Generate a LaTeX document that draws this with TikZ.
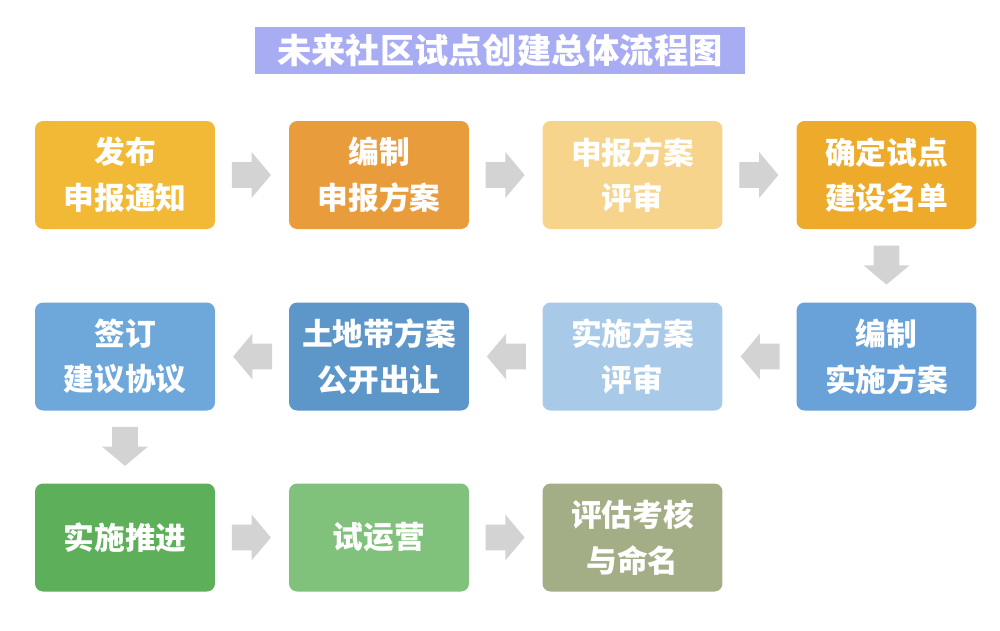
\documentclass[tikz,border=0pt]{standalone}
\usepackage{fontspec}
\setmainfont{Noto Sans CJK SC}
\usetikzlibrary{shapes.arrows,calc}
\definecolor{titleblue}{HTML}{A8ACF2}
\definecolor{arrowgray}{HTML}{D3D3D3}
\begin{document}
\begin{tikzpicture}[x=0.02cm,y=-0.02cm,
  stage/.style={rounded corners=0.16cm,minimum width=3.6cm,minimum height=2.16cm,inner sep=0pt,
    text=white,align=center,font=\fontsize{17.5}{26}\selectfont\bfseries},
  flow/.style={single arrow,fill=arrowgray,draw=none,inner xsep=0pt,inner ysep=0.25cm,
    minimum height=0.78cm,single arrow head extend=0.2cm,single arrow tip angle=100}]
\useasboundingbox (0,0) rectangle (1000,630);
\node[fill=titleblue,minimum width=9.8cm,minimum height=0.94cm,text=white,
  font=\fontsize{19.5}{22}\selectfont\bfseries] (title) at (500,50.5) {未来社区试点创建总体流程图};
% first row: declaration
\node[stage,fill={rgb,255:red,241;green,185;blue,53}] (fabu) at (125,175) {发布\\申报通知};
\node[stage,fill={rgb,255:red,233;green,156;blue,60}] (bianzhi) at (379,175) {编制\\申报方案};
\node[stage,fill={rgb,255:red,246;green,212;blue,140}] (pingshen) at (632.5,175) {申报方案\\评审};
\node[stage,fill={rgb,255:red,238;green,171;blue,43}] (queding) at (886.5,175) {确定试点\\建设名单};
% second row: plan, right to left
\node[stage,fill={rgb,255:red,104;green,162;blue,216}] (shishi) at (886.5,356.5) {编制\\实施方案};
\node[stage,fill={rgb,255:red,169;green,201;blue,233}] (ssps) at (632.5,356.5) {实施方案\\评审};
\node[stage,fill={rgb,255:red,93;green,150;blue,201}] (tudi) at (379,356.5) {土地带方案\\公开出让};
\node[stage,fill={rgb,255:red,110;green,168;blue,219}] (qianding) at (125,356.5) {签订\\建议协议};
% third row: build and run
\node[stage,fill={rgb,255:red,93;green,175;blue,89}] (tuijin) at (125,537.5) {实施推进};
\node[stage,fill={rgb,255:red,128;green,193;blue,123}] (yunying) at (379,537.5) {试运营};
\node[stage,fill={rgb,255:red,163;green,173;blue,134}] (pinggu) at (632.5,537.5) {评估考核\\与命名};
\foreach \a/\b/\r in {fabu/bianzhi/0,bianzhi/pingshen/0,pingshen/queding/0,queding/shishi/270,
  shishi/ssps/180,ssps/tudi/180,tudi/qianding/180,qianding/tuijin/270,tuijin/yunying/0,yunying/pinggu/0}
  \node[flow,rotate=\r,xshift=-0.12cm] (\a-\b) at ($(\a)!0.5!(\b)$) {};
\end{tikzpicture}
\end{document}
